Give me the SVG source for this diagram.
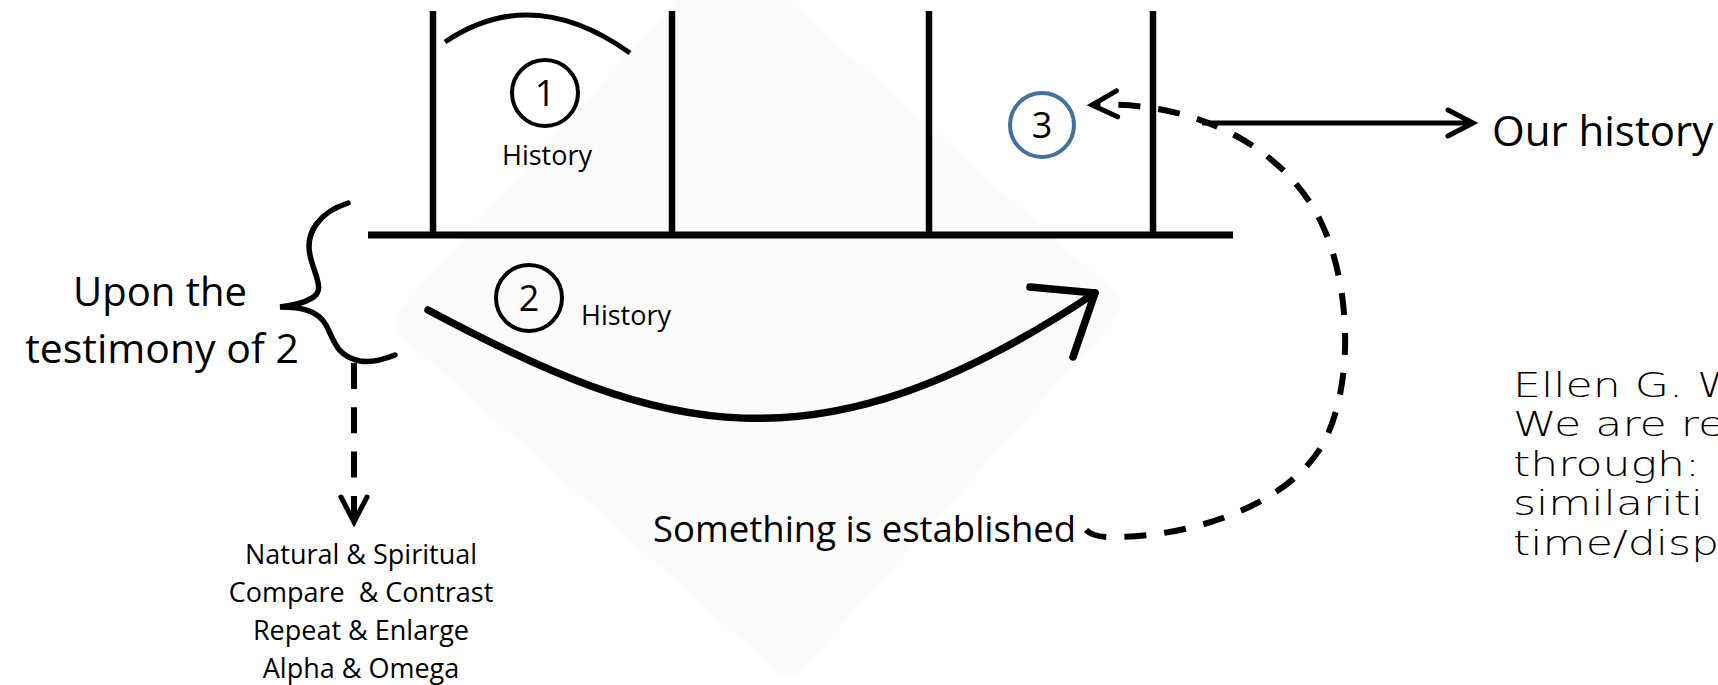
<svg xmlns="http://www.w3.org/2000/svg" width="1718" height="685" viewBox="0 0 1718 685">
  <defs>
    <style>
      .sans { font-family: "Open Sans", "Noto Sans", "Liberation Sans", sans-serif; fill: #000; }
      .big { font-size: 40px; }
      .small { font-size: 27px; }
      .num { font-size: 36px; text-anchor: middle; }
      .hand { font-family: "DejaVu Sans", "Liberation Sans", sans-serif; font-weight: 200; font-size: 34px; fill: #000; }
      .frame { stroke: #000; fill: none; }
      .ring { fill: none; stroke-width: 4; }
      .dash { stroke: #000; fill: none; stroke-width: 6; }
    </style>
    <marker id="vhead" markerUnits="userSpaceOnUse" markerWidth="40" markerHeight="40" refX="0" refY="0" orient="auto" overflow="visible">
      <path d="M-25,-13 L0,0 L-25,13" fill="none" stroke="#000" stroke-width="5" stroke-linecap="round" stroke-linejoin="miter"/>
    </marker>
  </defs>

  <rect width="1718" height="685" fill="#fff"/>

  <!-- faint tilted backdrop square -->
  <rect id="backdrop" x="-270" y="-254" width="540" height="508" rx="18" fill="#fbfbfb" transform="translate(758,314) rotate(41.8)"/>

  <!-- timeline frame: base line, posts and arch -->
  <g id="timeline" class="frame">
    <line x1="368" y1="235" x2="1233" y2="235" stroke-width="7"/>
    <line x1="433" y1="11" x2="433" y2="235" stroke-width="6.5"/>
    <line x1="672" y1="11" x2="672" y2="235" stroke-width="6.5"/>
    <line x1="929" y1="11" x2="929" y2="235" stroke-width="6.5"/>
    <line x1="1153" y1="11" x2="1153" y2="235" stroke-width="6.5"/>
    <path d="M445,42 Q532,-17 630,53" stroke-width="5"/>
  </g>

  <g id="node-1">
    <circle class="ring" cx="545" cy="93" r="33" stroke="#000"/>
    <text class="sans num" x="545" y="106">1</text>
    <text class="sans small" x="547" y="165" text-anchor="middle">History</text>
  </g>

  <g id="node-2">
    <circle class="ring" cx="529" cy="298" r="33" stroke="#000"/>
    <text class="sans num" x="529" y="311">2</text>
    <text class="sans small" x="581" y="325">History</text>
  </g>

  <g id="node-3">
    <circle class="ring" cx="1042" cy="125" r="32" stroke="#41719C" stroke-width="3.5"/>
    <text class="sans num" x="1042" y="138">3</text>
  </g>

  <g id="testimony">
    <path class="frame" stroke-width="5.5" stroke-linecap="round" d="M348,203 C320,212 305,232 310,255 C314,275 326,290 312,298 C302,304 290,306 280,307 C300,307 318,310 326,325 C334,340 336,356 360,361 C372,363 385,359 395,355"/>
    <text class="sans big" x="160" y="306" text-anchor="middle">Upon the</text>
    <text class="sans" font-size="41" x="162" y="363" text-anchor="middle">testimony of 2</text>
  </g>

  <g id="methods" class="sans small" text-anchor="middle">
    <text x="361" y="564">Natural &amp; Spiritual</text>
    <text x="361" y="602" xml:space="preserve">Compare  &amp; Contrast</text>
    <text x="361" y="640">Repeat &amp; Enlarge</text>
    <text x="361" y="678">Alpha &amp; Omega</text>
  </g>

  <g id="established">
    <text class="sans" font-size="36.5" x="653" y="542">Something is established</text>
  </g>

  <g id="our-history">
    <text class="sans" font-size="42" x="1492" y="146">Our history</text>
  </g>

  <g id="quote" class="hand" transform="translate(1513,0) scale(1.3,1)">
    <text x="0" y="397">Ellen G. W</text>
    <text x="0" y="436.5">We are re</text>
    <text x="0" y="476">through:</text>
    <text x="0" y="515.5">similariti</text>
    <text x="0" y="555">time/disp</text>
  </g>

  <!-- connectors -->
  <g id="connectors">
    <!-- sweeping history arrow -->
    <path d="M428,310 C660,434 815,480 1095,293" fill="none" stroke="#000" stroke-width="7.5" stroke-linecap="round"/>
    <path d="M1030,287 L1095,293 L1073,357" fill="none" stroke="#000" stroke-width="7.5" stroke-linecap="round" stroke-linejoin="round"/>

    <!-- brace down to the list -->
    <path class="dash" d="M354,363 L354,522" stroke-dasharray="26 18.3" marker-end="url(#vhead)"/>

    <!-- established loops back to 3 -->
    <path class="dash" stroke-dasharray="22 18" d="M1086,530 Q1093,537 1110,537 C1190,538 1292,505 1325,440 C1355,380 1350,280 1320,220 C1285,150 1200,100 1092,105" marker-end="url(#vhead)"/>

    <!-- out to our history -->
    <path d="M1202,123 L1473,123" fill="none" stroke="#000" stroke-width="5" marker-end="url(#vhead)"/>
  </g>
</svg>
